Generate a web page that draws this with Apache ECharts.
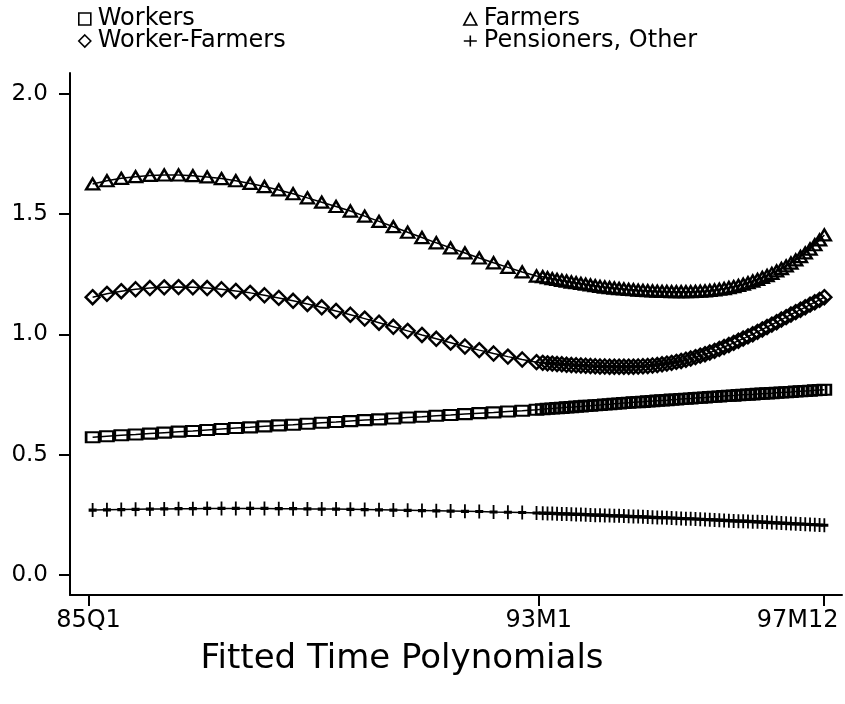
<!DOCTYPE html>
<html>
<head>
<meta charset="utf-8">
<script src="https://cdn.jsdelivr.net/npm/echarts@6/dist/echarts.min.js"></script>
<style>
html, body { margin: 0; padding: 0; background: #fff; }
#chartmain { width: 845px; height: 704px; }
</style>
</head>
<body>
<div id="chartmain"></div>
<script>
// time axis is months since Jan 1985: quarterly obs 85Q1-92Q4, monthly 93M1-97M12
var xTickValues = [0.84, 95.16, 154.9];
var xLabelValues = [0.84, 95.16, 149.4];
var xTickLabels = ['85Q1', '93M1', '97M12'];
var yTickValues = [0, 0.5, 1, 1.5, 2];

var workersQ = [0.573,0.577,0.581,0.584,0.588,0.592,0.596,0.599,0.603,0.607,
	0.611,0.614,0.618,0.622,0.625,0.629,0.633,0.636,0.640,0.644,
	0.647,0.651,0.655,0.658,0.662,0.665,0.669,0.673,0.676,0.680,
	0.683,0.687];
var workersM = [0.689,0.691,0.692,0.694,0.695,0.697,0.698,0.700,0.701,0.703,
	0.704,0.706,0.707,0.709,0.710,0.712,0.713,0.715,0.716,0.718,
	0.719,0.720,0.722,0.723,0.725,0.726,0.727,0.729,0.730,0.732,
	0.733,0.734,0.736,0.737,0.738,0.740,0.741,0.742,0.744,0.745,
	0.746,0.748,0.749,0.750,0.751,0.753,0.754,0.755,0.756,0.758,
	0.759,0.760,0.761,0.763,0.764,0.765,0.766,0.768,0.769,0.770];

var farmersQ = [1.626,1.639,1.649,1.656,1.661,1.663,1.663,1.660,1.655,1.648,
	1.639,1.628,1.615,1.601,1.585,1.568,1.550,1.532,1.513,1.492,
	1.470,1.448,1.425,1.403,1.381,1.360,1.339,1.318,1.298,1.279,
	1.260,1.243];
var farmersM = [1.240,1.236,1.232,1.229,1.225,1.222,1.218,1.215,1.212,1.209,
	1.206,1.203,1.200,1.197,1.195,1.193,1.191,1.189,1.187,1.186,
	1.184,1.183,1.182,1.181,1.180,1.179,1.179,1.178,1.178,1.178,
	1.178,1.178,1.179,1.180,1.181,1.183,1.185,1.188,1.191,1.195,
	1.199,1.204,1.209,1.215,1.222,1.229,1.237,1.245,1.254,1.264,
	1.274,1.285,1.297,1.310,1.324,1.339,1.355,1.373,1.393,1.414];

var wfarmersQ = [1.155,1.169,1.180,1.188,1.193,1.196,1.197,1.196,1.193,1.188,
	1.181,1.173,1.163,1.152,1.140,1.127,1.113,1.098,1.082,1.066,
	1.049,1.032,1.015,0.998,0.982,0.966,0.950,0.935,0.921,0.908,
	0.896,0.885];
var wfarmersM = [0.882,0.880,0.879,0.877,0.876,0.874,0.873,0.872,0.871,0.870,
	0.869,0.868,0.867,0.867,0.866,0.866,0.866,0.866,0.866,0.866,
	0.867,0.868,0.869,0.871,0.873,0.876,0.879,0.882,0.886,0.890,
	0.895,0.900,0.906,0.912,0.918,0.925,0.932,0.940,0.948,0.956,
	0.965,0.974,0.983,0.992,1.001,1.011,1.021,1.031,1.041,1.051,
	1.062,1.072,1.083,1.093,1.103,1.113,1.124,1.134,1.144,1.155];

var pensQ = [0.270,0.271,0.272,0.273,0.274,0.275,0.276,0.276,0.277,0.277,
	0.277,0.277,0.277,0.276,0.276,0.275,0.274,0.274,0.273,0.272,
	0.271,0.270,0.269,0.268,0.267,0.266,0.265,0.264,0.262,0.261,
	0.260,0.258];
var pensM = [0.257,0.256,0.256,0.255,0.254,0.254,0.253,0.252,0.252,0.251,
	0.250,0.249,0.249,0.248,0.247,0.246,0.246,0.245,0.244,0.243,
	0.243,0.242,0.241,0.240,0.239,0.239,0.238,0.237,0.236,0.235,
	0.234,0.234,0.233,0.232,0.231,0.230,0.229,0.228,0.227,0.226,
	0.225,0.224,0.224,0.223,0.222,0.221,0.220,0.219,0.218,0.217,
	0.216,0.215,0.214,0.213,0.212,0.211,0.210,0.209,0.208,0.207];

var FONT = 'DejaVu Sans';
var PLUS = 'path://M4,0L4,14M0,7L8,7';
var PLUS_ICON = 'path://M0,6L14,6M7,0L7,12';

// quarters sit mid-quarter, months follow from 93M1 (month 96)
function toPoints(qVals, mVals) {
	var pts = [];
	for (var q = 0; q < qVals.length; q++) pts.push([1.7 + 3 * q, qVals[q]]);
	for (var k = 0; k < mVals.length; k++) pts.push([96 + k, mVals[k]]);
	return pts;
}

function makeSeries(name, symbol, size, qVals, mVals) {
	return {
		name : name,
		type : 'line',
		data : toPoints(qVals, mVals),
		symbol : symbol,
		symbolSize : size,
		showAllSymbol : true,
		lineStyle : { color : '#000', width : 1.5 },
		itemStyle : { color : 'transparent', borderColor : '#000', borderWidth : 2.4 },
		emphasis : { disabled : true }
	};
}

var legendText = { fontFamily : FONT, fontSize : 24, color : '#000', lineHeight : 22, padding : [0, 0, 0, 2] };
var legendItem = { color : 'transparent', borderColor : '#000', borderWidth : 1.6 };

var option = {
	animation : false,
	backgroundColor : '#fff',
	grid : { left : 70, right : 3, top : 73, bottom : 109 },
	legend : [ {
		left : 73, top : 2, orient : 'vertical',
		itemWidth : 12, itemHeight : 12, itemGap : -2,
		textStyle : legendText, itemStyle : legendItem,
		data : [ { name : 'Workers', icon : 'rect' }, { name : 'Worker-Farmers', icon : 'diamond' } ]
	}, {
		left : 458, top : 2, orient : 'vertical',
		itemWidth : 13, itemHeight : 12, itemGap : -2,
		textStyle : legendText, itemStyle : legendItem,
		data : [ { name : 'Farmers', icon : 'triangle' }, { name : 'Pensioners, Other', icon : PLUS_ICON } ]
	} ],
	xAxis : {
		type : 'value',
		min : -3.04,
		max : 158.7,
		splitLine : { show : false },
		axisLine : { onZero : false, lineStyle : { color : '#000', width : 2 } },
		axisTick : { customValues : xTickValues, length : 11, lineStyle : { color : '#000', width : 2 } },
		axisLabel : {
			customValues : xLabelValues,
			margin : 14,
			fontFamily : FONT, fontSize : 24, color : '#000',
			formatter : function(v) {
				var best = 0;
				for (var i = 1; i < xLabelValues.length; i++) {
					if (Math.abs(xLabelValues[i] - v) < Math.abs(xLabelValues[best] - v)) best = i;
				}
				return xTickLabels[best];
			}
		}
	},
	yAxis : {
		type : 'value',
		min : -0.083,
		max : 2.087,
		splitLine : { show : false },
		axisLine : { show : true, onZero : false, lineStyle : { color : '#000', width : 2 } },
		axisTick : { show : true, customValues : yTickValues, length : 11, lineStyle : { color : '#000', width : 2 } },
		axisLabel : {
			customValues : yTickValues,
			margin : 22,
			fontFamily : FONT, fontSize : 23, color : '#000',
			formatter : function(v) { return v.toFixed(1); }
		}
	},
	graphic : [ {
		type : 'text',
		x : 402, y : 659,
		style : { text : 'Fitted Time Polynomials', align : 'center', verticalAlign : 'middle',
			font : '34px "DejaVu Sans"', fill : '#000' }
	} ],
	series : [
		makeSeries('Workers', 'rect', [13, 10], workersQ, workersM),
		makeSeries('Farmers', 'triangle', [13, 11], farmersQ, farmersM),
		makeSeries('Worker-Farmers', 'diamond', [14, 14], wfarmersQ, wfarmersM),
		makeSeries('Pensioners, Other', PLUS, [8, 14], pensQ, pensM)
	]
};

var myChart = echarts.init(document.getElementById('chartmain'));
myChart.setOption(option);
</script>
</body>
</html>
